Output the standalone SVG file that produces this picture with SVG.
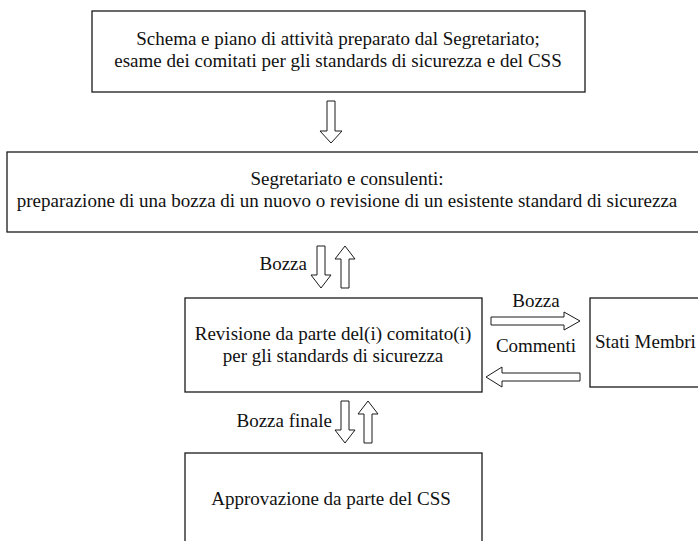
<svg xmlns="http://www.w3.org/2000/svg" width="698" height="541" viewBox="0 0 698 541">
<style>
.box{fill:#ffffff;stroke:#1a1a1a;stroke-width:1.3}
.arr{fill:#ffffff;stroke:#1a1a1a;stroke-width:1}
text{font-family:"Liberation Serif","Times New Roman",serif;font-size:19px;fill:#111}
.c{text-anchor:middle}
.e{text-anchor:end}
</style>
<rect width="698" height="541" fill="#ffffff"/>
<g id="node-schema">
<rect class="box" x="92" y="11" width="493" height="81"/>
<text class="c" x="338" y="45">Schema e piano di attività preparato dal Segretariato;</text>
<text class="c" x="338" y="67">esame dei comitati per gli standards di sicurezza e del CSS</text>
</g>
<g id="node-segretariato">
<rect class="box" x="7" y="152" width="700" height="80"/>
<text class="c" x="347" y="185">Segretariato e consulenti:</text>
<text class="c" x="347" y="207">preparazione di una bozza di un nuovo o revisione di un esistente standard di sicurezza</text>
</g>
<g id="node-revisione">
<rect class="box" x="185" y="298" width="297" height="94"/>
<text class="c" x="333" y="340">Revisione da parte del(i) comitato(i)</text>
<text class="c" x="333" y="362">per gli standards di sicurezza</text>
</g>
<g id="node-stati">
<rect class="box" x="590" y="298" width="120" height="89"/>
<text x="595" y="348">Stati Membri</text>
</g>
<g id="node-approvazione">
<rect class="box" x="185" y="453" width="297" height="110"/>
<text class="c" x="331" y="505">Approvazione da parte del CSS</text>
</g>
<g id="connectors">
<path class="arr" d="M327,101 H335 V131 H342 L331,143 L320,131 H327 Z"/>
<path class="arr" d="M317,246 H325 V275 H331 L321,288 L311,275 H317 Z"/>
<path class="arr" d="M341,288 H349 V259 H355 L345,246 L335,259 H341 Z"/>
<text class="e" x="307" y="270">Bozza</text>
<path class="arr" d="M341,401 H349 V430 H355 L345,443 L335,430 H341 Z"/>
<path class="arr" d="M364,443 H372 V414 H378 L368,401 L358,414 H364 Z"/>
<text class="e" x="332" y="427">Bozza finale</text>
<path class="arr" d="M491,317 H564 V312 L580,321 L564,330 V325 H491 Z"/>
<text class="c" x="536" y="307">Bozza</text>
<path class="arr" d="M580,373 H502 V367 L486,377 L502,387 V381 H580 Z"/>
<text class="c" x="536" y="352">Commenti</text>
</g>
</svg>
